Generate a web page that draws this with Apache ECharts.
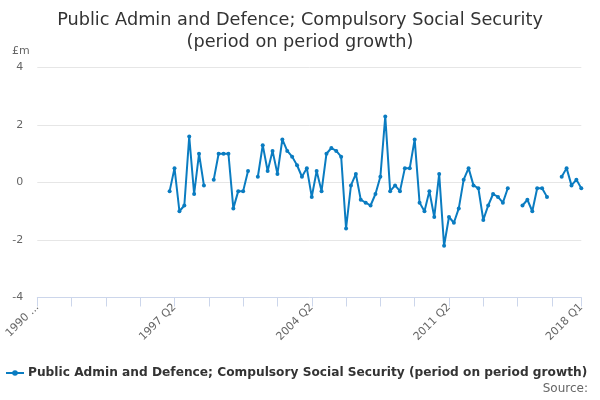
<!DOCTYPE html>
<html>
<head>
<meta charset="utf-8">
<script src="https://cdn.jsdelivr.net/npm/echarts@6/dist/echarts.min.js"></script>
<style>
html,body{margin:0;padding:0;background:#fff;}
#chart{width:600px;height:400px;}
</style>
</head>
<body>
<div id="chart"></div>
<script>
// Categories: quarterly, 1990 Q2 to 2018 Q1
var categories = [];
for (var y = 1990; y <= 2018; y++) {
  for (var q = 1; q <= 4; q++) {
    if (y === 1990 && q < 2) continue;
    if (y === 2018 && q > 1) continue;
    categories.push(y + ' Q' + q);
  }
}
var seriesName = 'Public Admin and Defence; Compulsory Social Security (period on period growth)';
var growth = [
  null, null, null, null, null, null, null, null, null, null,
  null, null, null, null, null, null, null, null, null, null,
  null, null, null, null, null, null, null,
  -0.3, 0.5, -1.0, -0.8, 1.6, -0.4, 1.0, -0.1, null, 0.1,
  1.0, 1.0, 1.0, -0.9, -0.3, -0.3, 0.4, null, 0.2, 1.3,
  0.4, 1.1, 0.3, 1.5, 1.1, 0.9, 0.6, 0.2, 0.5, -0.5,
  0.4, -0.3, 1.0, 1.2, 1.1, 0.9, -1.6, -0.1, 0.3, -0.6,
  -0.7, -0.8, -0.4, 0.2, 2.3, -0.3, -0.1, -0.3, 0.5, 0.5,
  1.5, -0.7, -1.0, -0.3, -1.2, 0.3, -2.2, -1.2, -1.4, -0.9,
  0.1, 0.5, -0.1, -0.2, -1.3, -0.8, -0.4, -0.5, -0.7, -0.2,
  null, null, -0.8, -0.6, -1.0, -0.2, -0.2, -0.5, null, null,
  0.2, 0.5, -0.1, 0.1, -0.2
];
var yTicks = [-4, -2, 0, 2, 4];

var lastIdx = categories.length - 1;
var font = 'DejaVu Sans';
var chart = echarts.init(document.getElementById('chart'));
chart.setOption({
  animation: false,
  textStyle: { fontFamily: font },
  title: {
    text: 'Public Admin and Defence; Compulsory Social Security\n(period on period growth)',
    left: 'center',
    top: 4,
    textStyle: { fontFamily: font, fontSize: 17.7, fontWeight: 'normal', color: '#333333', lineHeight: 22 }
  },
  grid: { left: 37.3, top: 67.5, width: 544, height: 230, containLabel: false },
  xAxis: {
    type: 'category',
    data: categories,
    boundaryGap: false,
    axisLine: { onZero: false, lineStyle: { color: '#ccd6eb', width: 1 } },
    axisTick: {
      length: 9,
      lineStyle: { color: '#ccd6eb' },
      interval: function (idx) { return idx % 7 === 0 || idx === lastIdx; }
    },
    axisLabel: {
      rotate: 45,
      color: '#666666',
      fontSize: 11,
      fontFamily: font,
      margin: 8,
      interval: function (idx) { return idx % 28 === 0 || idx === lastIdx; },
      formatter: function (v, idx) { return idx === 0 ? '1990 ...' : v; }
    },
    splitLine: { show: false }
  },
  yAxis: {
    type: 'value',
    min: yTicks[0],
    max: yTicks[yTicks.length - 1],
    interval: 2,
    axisLine: { show: false },
    axisTick: { show: false },
    axisLabel: { color: '#666666', fontSize: 11, fontFamily: font, margin: 14 },
    splitLine: { lineStyle: { color: '#e6e6e6', width: 1 } }
  },
  legend: {
    bottom: 16,
    left: 0,
    itemWidth: 18,
    itemHeight: 7,
    itemGap: 5,
    textStyle: { fontFamily: font, fontSize: 12.2, fontWeight: 'bold', color: '#333333', padding: [0, 0, 0, -1] },
    data: [seriesName]
  },
  graphic: [
    { type: 'text', left: 12, top: 46, style: { text: '£m', fill: '#666666', font: '11px "DejaVu Sans"' } },
    { type: 'text', right: 12, top: 383, style: { text: 'Source:', fill: '#666666', font: '12px "DejaVu Sans"' } }
  ],
  series: [{
    name: seriesName,
    type: 'line',
    data: growth,
    connectNulls: false,
    symbol: 'circle',
    symbolSize: 4,
    showSymbol: true,
    showAllSymbol: true,
    itemStyle: { color: '#0a7cc1' },
    lineStyle: { color: '#0a7cc1', width: 2 }
  }]
});
</script>
</body>
</html>
